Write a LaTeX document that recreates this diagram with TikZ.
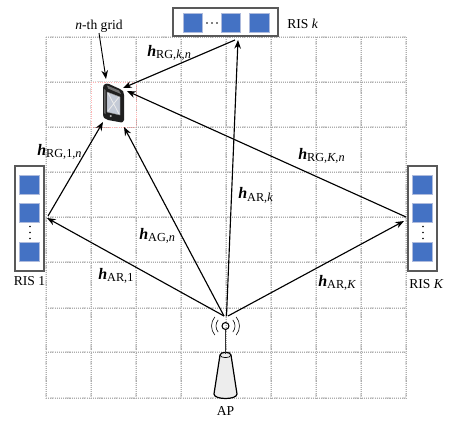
\documentclass[tikz,border=0pt]{standalone}
\usepackage{fontspec}
\setmainfont{Liberation Serif}
\usetikzlibrary{arrows.meta}
\definecolor{risblue}{HTML}{4472C4}
\definecolor{risedge}{HTML}{AEBBDD}
\definecolor{phonescreen}{HTML}{C4CAD6}
\newcommand{\chan}[1]{{\fontsize{12pt}{12pt}\selectfont\bfseries\itshape h}\raisebox{-2.2pt}{\fontsize{9.2pt}{9.2pt}\selectfont #1}}
\newcommand{\ital}[1]{\textit{#1}}
\tikzset{
  gridline/.style={draw=black!32,line width=0.45pt,dash pattern=on 0.8pt off 0.8pt},
  gridsoft/.style={draw=black!14,line width=0.9pt,dash pattern=on 1pt off 0.6pt},
  cellmark/.style={draw=red!30,line width=0.5pt,dash pattern=on 0.8pt off 0.9pt},
  risbox/.style={draw=black!65,line width=0.9pt,fill=white},
  element/.style={draw=risedge,line width=0.7pt,fill=risblue,minimum size=14.8pt,inner sep=0pt},
  link/.style={draw=black,line width=0.85pt,-{Stealth[length=6.5pt,width=5pt]}},
  lab/.style={anchor=base west,inner sep=0pt,font=\fontsize{10.2pt}{10.2pt}\selectfont},
  chanlab/.style={anchor=base west,inner sep=0pt},
  ris dots/.style={fill=black,circle,inner sep=0pt,minimum size=1.4pt},
  wave/.style={black,line width=0.45pt},
}
\begin{document}
\begin{tikzpicture}[x=0.75pt,y=-0.75pt]
\useasboundingbox (0,0) rectangle (451,421);
% grid
\foreach \x in {46,91,136,181,226,271,316,361,406}{\draw[gridsoft] (\x,37) -- (\x,398);\draw[gridline] (\x,37) -- (\x,398);}
\foreach \y in {37,82,127,172,217,262,308,352,398}{\draw[gridsoft] (46,\y) -- (406,\y);\draw[gridline] (46,\y) -- (406,\y);}
\draw[cellmark,fill=white] (91,82) rectangle (136,127);
% RIS 1
\node[risbox,minimum width=21.75pt,minimum height=78.75pt,inner sep=0pt] (ris1) at (29.5,218.5) {};
\node[element] (ris1a) at (29.5,185) {};
\node[element] (ris1b) at (29.5,213) {};
\node[element] (ris1c) at (29.5,252) {};
\node[ris dots] (ris1d1) at (30,226.5) {};
\node[ris dots] (ris1d2) at (30,232.5) {};
\node[ris dots] (ris1d3) at (30,238.5) {};
\node[lab] (ris1l) at (13.5,285) {RIS 1};
% RIS K
\node[risbox,minimum width=21.75pt,minimum height=78.75pt,inner sep=0pt] (risK) at (422.5,218.5) {};
\node[element] (risKa) at (422.5,185) {};
\node[element] (risKb) at (422.5,213) {};
\node[element] (risKc) at (422.5,252) {};
\node[ris dots] (risKd1) at (423,226.5) {};
\node[ris dots] (risKd2) at (423,232.5) {};
\node[ris dots] (risKd3) at (423,238.5) {};
\node[lab] (risKl) at (409,288) {RIS \ital{K}};
% RIS k
\node[risbox,minimum width=78.75pt,minimum height=21pt,inner sep=0pt] (risk) at (225.5,22) {};
\node[element] (riska) at (193,23) {};
\node[element] (riskb) at (231,23) {};
\node[element] (riskc) at (259.5,23) {};
\node[ris dots] (riskd1) at (207,23) {};
\node[ris dots] (riskd2) at (212,23) {};
\node[ris dots] (riskd3) at (217,23) {};
\node[lab] (riskl) at (287,28) {RIS \ital{k}};
% phone
\fill[black!88] (103,88) .. controls (103,84) and (106,83) .. (109,84)
  -- (120,89) .. controls (123,90) and (124,92) .. (124,95) -- (124,120)
  .. controls (124,122) and (122,123) .. (119,122) -- (108,120)
  .. controls (105,119) and (103,118) .. (103,114) -- cycle;
\fill[black!55] (107,85.5) -- (119,90.5) -- (121,94) -- (108,88.5) -- cycle;
\fill[black!60] (104,89) -- (105.5,90) -- (105.5,114) -- (104,113) -- cycle;
\fill[phonescreen,draw=black!40,line width=0.3pt] (107,92) -- (120,97) -- (120,115) -- (107,112) -- cycle;
\draw[white!92!black,line width=0.6pt] (108,93) -- (119,114) (119,97) -- (108,111);
\fill[black!25] (110.8,116) circle (1.1);
\coordinate (phT) at (106,79);
\coordinate (phK) at (123,88);
\coordinate (phL) at (127,91);
\coordinate (phB) at (103,122);
\coordinate (phG) at (124,127);
% AP
\draw[black,line width=0.9pt,fill=black!7] (220,355) -- (214,394)
  .. controls (214,400) and (237,400) .. (237,394) -- (231,355)
  .. controls (231,351.5) and (220,351.5) .. (220,355) -- cycle;
\draw[black,line width=0.5pt] (220,355) .. controls (220,358.5) and (231,358.5) .. (231,355);
\draw[black!80,line width=1.2pt] (225.5,329.5) -- (225.5,354);
\node[draw=black,line width=0.8pt,circle,minimum size=5.2pt,inner sep=0pt] (ant) at (225.5,326) {};
\draw[wave] (218.2,332.1) arc[start angle=140,end angle=220,radius=9.5];
\draw[wave] (214.8,335) arc[start angle=140,end angle=220,radius=14];
\draw[wave] (232.8,332.1) arc[start angle=40,end angle=-40,radius=9.5];
\draw[wave] (236.2,335) arc[start angle=40,end angle=-40,radius=14];
\node[lab] (apl) at (216.5,415) {AP};
\coordinate (apA) at (224,316);
\coordinate (apB) at (226.5,316);
\coordinate (apC) at (228,316);
% connector ends
\coordinate (r1) at (47,218);
\coordinate (r1s) at (48,216);
\coordinate (rkA) at (238,40);
\coordinate (rkS) at (235,40);
\coordinate (rKA) at (404,221);
\coordinate (rKS) at (406,217);
% connectors
\draw[link] (apA) -- (r1);
\draw[link] (apA) -- (phG);
\draw[link] (apB) -- (rkA);
\draw[link] (apC) -- (rKA);
\draw[link] (r1s) -- (phB);
\draw[link] (rkS) -- (phK);
\draw[link] (rKS) -- (phL);
\node[lab,anchor=base] (grid) at (99,29) {\ital{n}-th grid};
\coordinate (gridS) at (99,33);
\draw[link,line width=0.7pt] (gridS) -- (phT);
% labels
\node[chanlab] (l1) at (147,56) {\chan{RG,\ital{k},\ital{n}}};
\node[chanlab] (l2) at (37,155) {\chan{RG,1,\ital{n}}};
\node[chanlab] (l3) at (298,159) {\chan{RG,\ital{K},\ital{n}}};
\node[chanlab] (l4) at (238,199) {\chan{AR,\ital{k}}};
\node[chanlab] (l5) at (139,239) {\chan{AG,\ital{n}}};
\node[chanlab] (l6) at (98,279) {\chan{AR,1}};
\node[chanlab] (l7) at (318,286) {\chan{AR,\ital{K}}};
\end{tikzpicture}
\end{document}
